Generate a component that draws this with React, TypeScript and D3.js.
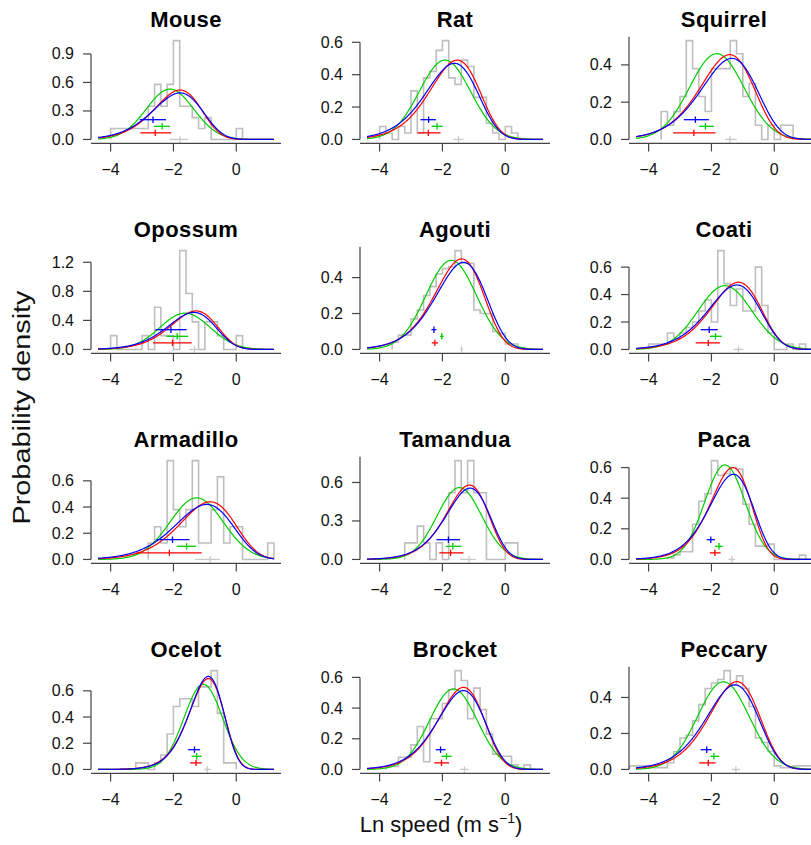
import React from 'react';
import * as d3 from 'd3';

const SPECIES = ['Mouse', 'Rat', 'Squirrel', 'Opossum', 'Agouti', 'Coati', 'Armadillo', 'Tamandua', 'Paca', 'Ocelot', 'Brocket', 'Peccary'];

// histogram: left edge of first bin, bin width 0.2, densities
const HIST_START = [-4.0, -4.0, -3.6, -4.0, -3.6, -4.0, -2.8, -3.2, -3.4, -3.2, -3.8, -4.6];
const HIST_BIN = 0.2;
const HIST_MOUSE = [0.116, 0.116, 0.116, 0.116, 0.116, 0.116, 0.35, 0.58, 0.35, 0.58, 1.04, 0.35, 0.35, 0.23, 0.116, 0.23, 0, 0, 0, 0, 0.116];
const HIST_RAT = [0.08, 0.04, 0, 0.08, 0.04, 0.30, 0.04, 0.38, 0.42, 0.55, 0.61, 0.38, 0.34, 0.49, 0.45, 0.26, 0.26, 0.10, 0.04, 0, 0.08, 0.04];
const HIST_SQUIRREL = [0.15, 0.076, 0.15, 0.23, 0.53, 0.38, 0.23, 0.15, 0.38, 0.38, 0.38, 0.53, 0.46, 0.23, 0.30, 0.076, 0, 0.076, 0, 0.076, 0.076];
const HIST_OPOSSUM = [0.19, 0, 0, 0, 0, 0.19, 0, 0.58, 0.19, 0.19, 0, 1.36, 0.77, 0.38, 0, 0.38, 0.38, 0.19, 0, 0, 0.19];
const HIST_AGOUTI = [0.04, 0.08, 0.08, 0.17, 0.22, 0.30, 0.35, 0.42, 0.45, 0.46, 0.55, 0.48, 0.48, 0.22, 0.20, 0.20, 0.10, 0.09, 0.03, 0.03, 0.01];
const HIST_COATI = [0.04, 0.04, 0.04, 0.12, 0.08, 0.12, 0.16, 0.20, 0.28, 0.36, 0.20, 0.72, 0.48, 0.32, 0.44, 0.28, 0.28, 0.60, 0.32, 0.12, 0, 0, 0.04, 0, 0.04];
const HIST_ARMADILLO = [0.126, 0.25, 0.126, 0.754, 0.38, 0.25, 0.38, 0.754, 0.126, 0.126, 0.38, 0.63, 0.126, 0.25, 0.25, 0, 0, 0, 0, 0.126];
const HIST_TAMANDUA = [0.129, 0.129, 0.26, 0.129, 0, 0.129, 0, 0.52, 0.77, 0.52, 0.77, 0.52, 0.52, 0, 0, 0, 0.129, 0.129];
const HIST_PACA = [0.01, 0.03, 0.05, 0.05, 0.23, 0.38, 0.43, 0.645, 0.55, 0.56, 0.60, 0.59, 0.36, 0.23, 0.087, 0.087, 0.10, 0, 0, 0, 0, 0.028];
const HIST_OCELOT = [0.05, 0.05, 0, 0.05, 0.11, 0.27, 0.48, 0.54, 0.54, 0.48, 0.63, 0.63, 0.754, 0.43, 0.05, 0.05];
const HIST_BROCKET = [0.02, 0.02, 0.08, 0.08, 0.16, 0.28, 0.05, 0.33, 0.33, 0.43, 0.52, 0.644, 0.58, 0.33, 0.53, 0.39, 0.23, 0.10, 0.086, 0.086, 0.03, 0, 0.03];
const HIST_PECCARY = [0.02, 0.02, 0.02, 0.01, 0.01, 0.01, 0.037, 0.10, 0.175, 0.19, 0.27, 0.36, 0.45, 0.48, 0.50, 0.549, 0.47, 0.52, 0.45, 0.35, 0.175, 0.15, 0.10, 0.02, 0.01, 0.01, 0.02, 0.02, 0.02];
const HISTS = [HIST_MOUSE, HIST_RAT, HIST_SQUIRREL, HIST_OPOSSUM, HIST_AGOUTI, HIST_COATI, HIST_ARMADILLO, HIST_TAMANDUA, HIST_PACA, HIST_OCELOT, HIST_BROCKET, HIST_PECCARY];

// fitted densities: [mode, peak density]
const GREEN_FIT = [[-2.11, 0.53], [-1.92, 0.49], [-1.83, 0.46], [-1.63, 0.50], [-1.72, 0.496], [-1.57, 0.465], [-1.26, 0.47], [-1.46, 0.56], [-1.57, 0.617], [-1.05, 0.65], [-1.65, 0.525], [-1.62, 0.487]];
const RED_FIT = [[-1.79, 0.52], [-1.53, 0.49], [-1.42, 0.455], [-1.28, 0.53], [-1.39, 0.504], [-1.14, 0.49], [-0.83, 0.44], [-1.14, 0.58], [-1.32, 0.60], [-0.89, 0.694], [-1.33, 0.535], [-1.19, 0.488]];
const BLUE_FIT = [[-1.79, 0.49], [-1.62, 0.47], [-1.35, 0.435], [-1.35, 0.51], [-1.33, 0.485], [-1.19, 0.47], [-0.94, 0.42], [-1.12, 0.556], [-1.30, 0.556], [-0.89, 0.71], [-1.33, 0.514], [-1.25, 0.47]];
const RED_SHAPE = 3;
const BLUE_SHAPE = 3;

// estimates with intervals: [lower, estimate, upper]
const RED_CI = [[-3.05, -2.58, -2.07], [-2.79, -2.45, -2.06], [-3.22, -2.56, -1.87], [-2.65, -2.03, -1.42], [-2.34, -2.24, -2.14], [-2.5, -2.1, -1.73], [-3.18, -2.13, -1.1], [-2.1, -1.74, -1.33], [-2.05, -1.89, -1.71], [-1.47, -1.28, -1.1], [-2.26, -2.03, -1.79], [-2.39, -2.1, -1.87]];
const GREEN_CI = [[-2.62, -2.36, -2.11], [-2.34, -2.17, -1.99], [-2.39, -2.19, -1.92], [-2.22, -1.88, -1.53], [-2.08, -2.02, -1.96], [-2.05, -1.87, -1.67], [-1.9, -1.58, -1.28], [-1.89, -1.67, -1.39], [-1.89, -1.76, -1.64], [-1.42, -1.26, -1.1], [-2.03, -1.87, -1.71], [-2.03, -1.92, -1.75]];
const BLUE_CI = [[-3.07, -2.65, -2.24], [-2.70, -2.44, -2.21], [-2.88, -2.51, -2.08], [-2.57, -2.08, -1.58], [-2.35, -2.27, -2.19], [-2.34, -2.07, -1.80], [-2.54, -2.03, -1.49], [-2.19, -1.81, -1.44], [-2.15, -2.02, -1.89], [-1.53, -1.33, -1.15], [-2.21, -2.06, -1.90], [-2.34, -2.15, -1.99]];
const GREY_CI = [[-2.13, -1.79, -1.53], [-1.65, -1.49, -1.33], [-1.57, -1.41, -1.19], [-1.5, -1.33, -1.15], [-1.43, -1.39, -1.35], [-1.3, -1.14, -0.98], [-1.31, -0.83, -0.51], [-1.44, -1.15, -0.93], [-1.46, -1.35, -1.25], [-1.02, -0.92, -0.81], [-1.44, -1.30, -1.17], [-1.35, -1.22, -1.09]];

const Y_TICK_STEP = [0.3, 0.2, 0.2, 0.4, 0.2, 0.2, 0.2, 0.3, 0.2, 0.2, 0.2, 0.2];
const Y_TICK_MAX = [0.9, 0.6, 0.6, 1.2, 0.6, 0.6, 0.6, 0.9, 0.6, 0.6, 0.6, 0.6];
const X_TICKS = [-4, -2, 0];
const X_LIM: [number, number] = [-4.4, 1.2];

const FONT = "'Liberation Sans', Arial, Helvetica, sans-serif";
const COLORS = { red: '#ff0000', green: '#00cd00', blue: '#0000ff', grey: '#bebebe' };

function gammaFn(z: number): number {
  const g = 7;
  const c = [0.99999999999980993, 676.5203681218851, -1259.1392167224028, 771.32342877765313,
    -176.61502916214059, 12.507343278686905, -0.13857109526572012, 9.9843695780195716e-6, 1.5056327351493116e-7];
  if (z < 0.5) return Math.PI / (Math.sin(Math.PI * z) * gammaFn(1 - z));
  z -= 1;
  let x = c[0];
  for (let i = 1; i < g + 2; i++) x += c[i] / (z + i);
  const t = z + g + 0.5;
  return Math.sqrt(2 * Math.PI) * Math.pow(t, z + 0.5) * Math.exp(-t) * x;
}

function normalDensity(x: number, mode: number, peak: number) {
  const sd = 1 / (peak * Math.sqrt(2 * Math.PI));
  return peak * Math.exp(-0.5 * ((x - mode) / sd) ** 2);
}

function logGammaDensity(x: number, mode: number, peak: number, a: number) {
  const s = peak * Math.exp(a) * gammaFn(a) / Math.pow(a, a);
  const t = s * (x - mode);
  return peak * Math.exp(a * (1 + t - Math.exp(t)));
}

const LEFT0 = 91;
const COL_STEP = 269;
const TOP0 = 36.7;
const ROW_STEP = 210;
const PW = 190;
const PH = 106.7;

function Panel({ i }: { i: number }) {
  const col = i % 3;
  const row = Math.floor(i / 3);
  const left = LEFT0 + col * COL_STEP;
  const top = TOP0 + row * ROW_STEP;
  const bottom = top + PH;
  const ext = (X_LIM[1] - X_LIM[0]) * 0.04;
  const x = d3.scaleLinear().domain([X_LIM[0] - ext, X_LIM[1] + ext]).range([left, left + PW]);
  const hist = HISTS[i];
  const ymax = Math.max(d3.max(hist) as number, GREEN_FIT[i][1], RED_FIT[i][1], BLUE_FIT[i][1]);
  const y = d3.scaleLinear().domain([-0.04 * ymax, 1.04 * ymax]).range([bottom, top]);

  // histogram step outline
  const start = HIST_START[i];
  const pts: [number, number][] = [[start, 0]];
  hist.forEach((h, k) => {
    pts.push([start + k * HIST_BIN, h]);
    pts.push([start + (k + 1) * HIST_BIN, h]);
  });
  pts.push([start + hist.length * HIST_BIN, 0]);
  const histPath = d3.line<[number, number]>().x((d) => x(d[0])).y((d) => y(d[1]))(pts) || '';

  const grid = d3.range(X_LIM[0], X_LIM[1] + 1e-9, 0.02);
  const line = d3.line<number>().x((d) => x(d));
  const greenPath = line.y((d) => y(normalDensity(d, GREEN_FIT[i][0], GREEN_FIT[i][1])))(grid) || '';
  const redPath = line.y((d) => y(logGammaDensity(d, RED_FIT[i][0], RED_FIT[i][1], RED_SHAPE)))(grid) || '';
  const bluePath = line.y((d) => y(logGammaDensity(d, BLUE_FIT[i][0], BLUE_FIT[i][1], BLUE_SHAPE)))(grid) || '';

  const usrTop = 1.04 * ymax;
  const step = Y_TICK_STEP[i];
  const yTicks = d3.range(0, Y_TICK_MAX[i] + 1e-9, step).filter((v) => v <= usrTop);
  const yLineTop = Math.min(Y_TICK_MAX[i], usrTop);

  const crosses = [
    { ci: BLUE_CI[i], level: 0.2 * ymax, color: COLORS.blue },
    { ci: GREEN_CI[i], level: 0.133 * ymax, color: COLORS.green },
    { ci: RED_CI[i], level: 0.0667 * ymax, color: COLORS.red },
    { ci: GREY_CI[i], level: 0, color: '#c8c8c8' },
  ];

  return (
    <g>
      <text x={left + PW / 2} y={top - 9.5} textAnchor="middle" fontFamily={FONT} fontWeight="bold" fontSize={22} letterSpacing={0.4} fill="#000">
        {SPECIES[i]}
      </text>
      <path d={histPath} fill="none" stroke={COLORS.grey} strokeWidth={1.6} />
      <path d={greenPath} fill="none" stroke={COLORS.green} strokeWidth={1.2} />
      <path d={redPath} fill="none" stroke={COLORS.red} strokeWidth={1.2} />
      <path d={bluePath} fill="none" stroke={COLORS.blue} strokeWidth={1.2} />
      {crosses.map((c, k) => (
        <g key={k} stroke={c.color} strokeWidth={1.3}>
          <line x1={x(c.ci[0])} x2={x(c.ci[2])} y1={y(c.level)} y2={y(c.level)} />
          <line x1={x(c.ci[1])} x2={x(c.ci[1])} y1={y(c.level) - 3.2} y2={y(c.level) + 3.2} />
        </g>
      ))}
      {/* x axis */}
      <line x1={left} x2={left + PW} y1={bottom} y2={bottom} stroke="#444" strokeWidth={1.2} />
      {X_TICKS.map((t) => (
        <g key={t}>
          <line x1={x(t)} x2={x(t)} y1={bottom} y2={bottom + 8} stroke="#444" strokeWidth={1.2} />
          <text x={x(t)} y={bottom + 32} textAnchor="middle" fontFamily={FONT} fontSize={16} fill="#111">
            {t < 0 ? '\u2212' + Math.abs(t) : String(t)}
          </text>
        </g>
      ))}
      {/* y axis */}
      <line x1={left} x2={left} y1={y(0)} y2={y(yLineTop)} stroke="#444" strokeWidth={1.2} />
      {yTicks.map((t) => (
        <g key={t}>
          <line x1={left - 8} x2={left} y1={y(t)} y2={y(t)} stroke="#444" strokeWidth={1.2} />
          <text x={left - 17} y={y(t) + 5.5} textAnchor="end" fontFamily={FONT} fontSize={16} fill="#111">
            {d3.format('.1f')(t)}
          </text>
        </g>
      ))}
    </g>
  );
}

export default function App() {
  return (
    <svg width={811} height={845} viewBox="0 0 811 845" style={{ position: 'absolute', left: 0, top: 0, background: '#fff' }}>
      <rect x={0} y={0} width={811} height={845} fill="#fff" />
      {SPECIES.map((_, i) => (
        <Panel key={i} i={i} />
      ))}
      <text transform="translate(30,407.5) rotate(-90)" textAnchor="middle" fontFamily={FONT} fontSize={23} fill="#111" textLength={234} lengthAdjust="spacingAndGlyphs">
        Probability density
      </text>
      <text x={441} y={832} textAnchor="middle" fontFamily={FONT} fontSize={22} fill="#111">
        Ln speed (m s
        <tspan fontSize={14} dy={-9}>{'\u22121'}</tspan>
        <tspan dy={9}>)</tspan>
      </text>
    </svg>
  );
}
